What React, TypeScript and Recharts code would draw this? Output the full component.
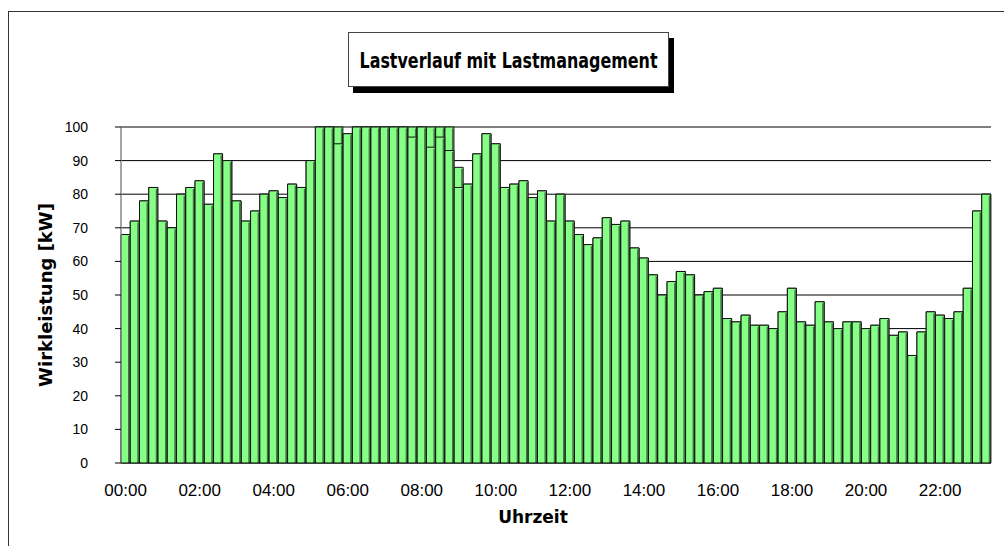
import { BarChart, Bar, XAxis, YAxis, CartesianGrid, Label } from 'recharts';

// Wirkleistung je Viertelstunde ab 00:00 [kW]
const LOAD_KW = [
  68, 72, 78, 82, 72, 70, 80, 82, 84, 77, 92, 90, 78, 72, 75, 80, 81, 79, 83, 82, 90, 100, 100, 95,
  98, 100, 100, 100, 100, 100, 100, 97, 100, 94, 97, 93, 82, 83, 92, 98, 95, 82, 83, 84, 79, 81, 72, 80,
  72, 68, 65, 67, 73, 71, 72, 64, 61, 56, 50, 54, 57, 56, 50, 51, 52, 43, 42, 44, 41, 41, 40, 45,
  52, 42, 41, 48, 42, 40, 42, 42, 40, 41, 43, 38, 39, 32, 39, 45, 44, 43, 45, 52, 75, 80,
];

// hintere Reihe, liegt deckungsgleich unter LOAD_KW
const LOAD_BEHIND_KW = [
  68, 72, 78, 82, 72, 70, 80, 82, 84, 77, 92, 90, 78, 72, 75, 80, 81, 79, 83, 82, 90, 100, 100, 100,
  98, 100, 100, 100, 100, 100, 100, 100, 100, 100, 100, 100, 88, 83, 92, 98, 95, 82, 83, 84, 79, 81, 72, 80,
  72, 68, 65, 67, 73, 71, 72, 64, 61, 56, 50, 54, 57, 56, 50, 51, 52, 43, 42, 44, 41, 41, 40, 45,
  52, 42, 41, 48, 42, 40, 42, 42, 40, 41, 43, 38, 39, 32, 39, 45, 44, 43, 45, 52, 75, 80,
];

const TIME_LABELS = ['00:00', '02:00', '04:00', '06:00', '08:00', '10:00', '12:00', '14:00', '16:00', '18:00', '20:00', '22:00'];
const Y_TICKS = [0, 10, 20, 30, 40, 50, 60, 70, 80, 90, 100];

const pad = (n: number) => String(n).padStart(2, '0');
const data = LOAD_KW.map((kw, i) => ({
  zeit: `${pad(Math.floor(i / 4))}:${pad((i % 4) * 15)}`,
  kw,
  kwHinten: LOAD_BEHIND_KW[i],
}));

// Teilstriche zwischen den Viertelstunden
const EDGE_TICKS = Array.from({ length: LOAD_KW.length + 1 }, (_, i) => i);

const BAR_FILL = '#86ff86';
const SANS = "'Liberation Sans', Arial, sans-serif";
const TITLE_FONT = "'DejaVu Sans', 'Liberation Sans', sans-serif";

function ShadedBar(props: any) {
  const { x, y, width, height } = props;
  if (!height || height <= 0) return null;
  return (
    <g>
      <rect x={x} y={y} width={width} height={height} fill={BAR_FILL} />
      <rect x={x + width - 2} y={y + 1.5} width={1.5} height={height - 1.5} fill="#457545" />
      <path
        d={`M${x},${y + height}V${y}H${x + width}V${y + height}`}
        fill="none"
        stroke="#111"
        strokeWidth={1}
      />
    </g>
  );
}

export default function App() {
  return (
    <div style={{ position: 'relative', width: 1004, height: 546, overflow: 'hidden', background: '#fff' }}>
      <style>{'body{margin:0;overflow:hidden}'}</style>
      <div
        style={{
          position: 'absolute',
          left: 8,
          top: 11,
          width: 1100,
          height: 600,
          border: '1px solid #333',
        }}
      />
      <div style={{ position: 'absolute', left: 0, top: 0 }}>
        <BarChart
          width={1004}
          height={546}
          data={data}
          margin={{ top: 127, right: 13, bottom: 0, left: 0 }}
          barCategoryGap={0}
          barGap={0}
        >
          <CartesianGrid xAxisId="front" horizontal vertical={false} stroke="#000" />
          <XAxis
            xAxisId="edges"
            type="number"
            domain={[0, LOAD_KW.length]}
            ticks={EDGE_TICKS}
            interval={0}
            tick={false}
            tickSize={6}
            axisLine={false}
            tickLine={{ stroke: '#333' }}
            height={0}
          />
          <XAxis
            xAxisId="front"
            dataKey="zeit"
            ticks={TIME_LABELS}
            interval={0}
            tickLine={false}
            tickSize={6}
            tickMargin={15}
            height={83}
            axisLine={{ stroke: '#000' }}
            tick={{ fontSize: 17, fill: '#000', fontFamily: SANS }}
          >
            <Label
              value="Uhrzeit"
              position="insideBottom"
              offset={23}
              dx={-23}
              fontSize={17}
              fontWeight="bold"
              fontFamily={TITLE_FONT}
              fill="#000"
            />
          </XAxis>
          <XAxis xAxisId="back" dataKey="zeit" hide height={0} />
          <YAxis
            domain={[0, 100]}
            ticks={Y_TICKS}
            interval={0}
            width={121}
            tickSize={6}
            tickMargin={27}
            axisLine={{ stroke: '#888', strokeWidth: 1.5 }}
            tickLine={{ stroke: '#000' }}
            tick={{ fontSize: 14, fill: '#000', fontFamily: SANS }}
          >
            <Label
              value="Wirkleistung [kW]"
              angle={-90}
              position="center"
              dx={-15}
              fontSize={18}
              fontWeight="bold"
              fontFamily={TITLE_FONT}
              fill="#000"
            />
          </YAxis>
          <Bar xAxisId="back" dataKey="kwHinten" shape={<ShadedBar />} isAnimationActive={false} />
          <Bar xAxisId="front" dataKey="kw" shape={<ShadedBar />} isAnimationActive={false} />
        </BarChart>
      </div>
      <div
        style={{
          position: 'absolute',
          left: 348,
          top: 32,
          width: 321,
          height: 55,
          boxSizing: 'border-box',
          border: '1px solid #444',
          background: '#fff',
          boxShadow: '5px 6px 0 #000',
        }}
      >
        <svg width={319} height={53} style={{ display: 'block' }}>
          {/* schmale, hohe Schrift: in der Höhe gestreckt */}
          <text
            transform="translate(159.5 35) scale(1 1.42)"
            x={0}
            y={0}
            textAnchor="middle"
            textLength={298}
            lengthAdjust="spacingAndGlyphs"
            fontSize={15.5}
            fontWeight="bold"
            fontFamily={TITLE_FONT}
            fill="#000"
          >
            Lastverlauf mit Lastmanagement
          </text>
        </svg>
      </div>
    </div>
  );
}
